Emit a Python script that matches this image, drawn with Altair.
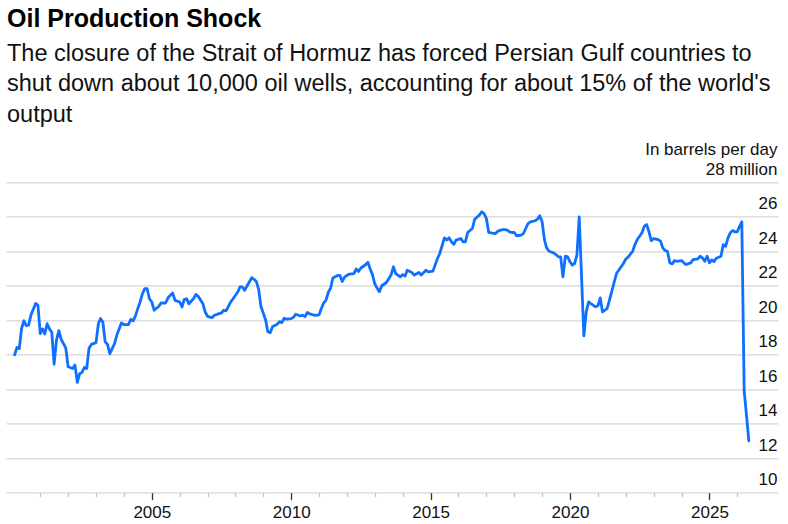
import altair as alt
import pandas as pd

# ---- data (month, million barrels per day) ----
dates = [
    "2000-02", "2000-03", "2000-04", "2000-05", "2000-06", "2000-07", "2000-08", "2000-09", "2000-11", "2000-12",
    "2001-01", "2001-02", "2001-03", "2001-04", "2001-05", "2001-06", "2001-07", "2001-08", "2001-09", "2001-10", "2001-12",
    "2002-01", "2002-03", "2002-04", "2002-05", "2002-06", "2002-07", "2002-08", "2002-09", "2002-10", "2002-11",
    "2003-01", "2003-02", "2003-03", "2003-04", "2003-05", "2003-06", "2003-07", "2003-09", "2003-10", "2003-12",
    "2004-01", "2004-03", "2004-04", "2004-05", "2004-06", "2004-07", "2004-08", "2004-09", "2004-10", "2004-11", "2004-12",
    "2005-01", "2005-02", "2005-04", "2005-05", "2005-07", "2005-08", "2005-10", "2005-11",
    "2006-01", "2006-02", "2006-03", "2006-04", "2006-05", "2006-07", "2006-08", "2006-09", "2006-11", "2006-12",
    "2007-01", "2007-03", "2007-04", "2007-06", "2007-07", "2007-08", "2007-09", "2007-11", "2007-12",
    "2008-02", "2008-03", "2008-04", "2008-05", "2008-07", "2008-08", "2008-09", "2008-10", "2008-11", "2008-12",
    "2009-02", "2009-03", "2009-04", "2009-05", "2009-07", "2009-08", "2009-09", "2009-10", "2009-11",
    "2010-01", "2010-02", "2010-03", "2010-05", "2010-06", "2010-07", "2010-08", "2010-09", "2010-11",
    "2011-01", "2011-02", "2011-03", "2011-04", "2011-05", "2011-06", "2011-07", "2011-09", "2011-10", "2011-11", "2011-12",
    "2012-01", "2012-02", "2012-04", "2012-05", "2012-06", "2012-07", "2012-09", "2012-10", "2012-11", "2012-12",
    "2013-01", "2013-02", "2013-03", "2013-04", "2013-06", "2013-08", "2013-09", "2013-10", "2013-12",
    "2014-01", "2014-02", "2014-03", "2014-05", "2014-06", "2014-08", "2014-09", "2014-11", "2014-12",
    "2015-02", "2015-04", "2015-05", "2015-07", "2015-08", "2015-09", "2015-10", "2015-11", "2015-12",
    "2016-02", "2016-03", "2016-04", "2016-05", "2016-07", "2016-08", "2016-10", "2016-11", "2016-12",
    "2017-01", "2017-02", "2017-03", "2017-05", "2017-06", "2017-08", "2017-09", "2017-10", "2017-11", "2017-12",
    "2018-01", "2018-02", "2018-04", "2018-05", "2018-07", "2018-08", "2018-10", "2018-11", "2018-12",
    "2019-01", "2019-02", "2019-03", "2019-04", "2019-06", "2019-07", "2019-08", "2019-09", "2019-10", "2019-11", "2019-12",
    "2020-01", "2020-02", "2020-03", "2020-04", "2020-05", "2020-07", "2020-08", "2020-09", "2020-10", "2020-12",
    "2021-01", "2021-02", "2021-03", "2021-04", "2021-05", "2021-06", "2021-08", "2021-09", "2021-10", "2021-12",
    "2022-01", "2022-02", "2022-03", "2022-04", "2022-05", "2022-06", "2022-08", "2022-09", "2022-10", "2022-11", "2022-12",
    "2023-01", "2023-03", "2023-04", "2023-05", "2023-06", "2023-07", "2023-08", "2023-09", "2023-10", "2023-11",
    "2024-01", "2024-02", "2024-03", "2024-05", "2024-06", "2024-08", "2024-09", "2024-10", "2024-11", "2024-12",
    "2025-01", "2025-02", "2025-03", "2025-04", "2025-06", "2025-07", "2025-08", "2025-09", "2025-10", "2025-11", "2025-12",
    "2026-01", "2026-02", "2026-03", "2026-04", "2026-05", "2026-06",
]

production = [
    18.0, 18.42, 18.36, 19.52, 19.97, 19.68, 19.72, 20.3, 20.97, 20.88,
    19.23, 19.5, 19.2, 19.8, 19.5, 19.3, 17.45, 18.85, 19.4, 18.9, 18.4,
    17.3, 17.2, 17.4, 16.4, 16.9, 16.97, 17.26, 17.2, 18.36, 18.6,
    18.7, 19.8, 20.1, 19.9, 18.75, 18.6, 18.07, 18.65, 19.14, 19.85,
    19.75, 19.75, 20.05, 19.97, 20.25, 20.67, 21.06, 21.54, 21.83, 21.83, 21.25,
    21.06, 20.58, 20.8, 21.0, 21.0, 21.3, 21.58, 21.15,
    21.06, 20.77, 21.2, 21.25, 20.96, 21.25, 21.5, 21.39, 20.96, 20.48,
    20.23, 20.15, 20.29, 20.38, 20.42, 20.58, 20.54, 21.06, 21.25,
    21.64, 21.93, 21.93, 21.74, 22.22, 22.46, 22.38, 22.25, 21.77, 20.8,
    20.0, 19.34, 19.28, 19.63, 19.77, 19.92, 19.86, 20.12, 20.06,
    20.1, 20.17, 20.35, 20.25, 20.29, 20.21, 20.45, 20.37, 20.29,
    20.31, 20.7, 20.99, 21.15, 21.61, 21.86, 22.45, 22.6, 22.6, 22.25, 22.5,
    22.6, 22.68, 22.7, 22.97, 22.83, 23.03, 23.22, 23.36, 22.97, 22.64,
    22.1, 21.85, 21.66, 22.0, 22.19, 22.62, 23.1, 22.71, 22.52,
    22.65, 22.56, 22.9, 22.77, 22.62, 22.77, 22.62, 22.9, 22.81,
    22.85, 23.58, 23.87, 24.78, 24.65, 24.78, 24.55, 24.4, 24.65,
    24.74, 24.55, 24.55, 25.09, 25.32, 25.86, 26.1, 26.29, 26.19,
    25.9, 25.09, 25.07, 25.03, 25.17, 25.26, 25.26, 25.23, 25.13, 25.09,
    25.09, 24.9, 24.94, 25.03, 25.61, 25.71, 25.77, 25.86, 26.06,
    25.71, 24.65, 24.2, 24.0, 23.91, 23.81, 23.68, 23.68, 22.52, 23.72, 23.68,
    23.39, 23.2, 23.29, 23.78, 26.0, 19.09, 20.49, 21.07, 20.97, 20.78,
    20.84, 21.3, 20.49, 20.58, 20.68, 21.16, 22.19, 22.71, 22.9, 23.29,
    23.55, 23.66, 23.83, 24.0, 24.39, 24.68, 25.07, 25.46, 25.55, 25.13, 24.62,
    24.74, 24.68, 24.59, 24.2, 24.04, 24.0, 23.33, 23.27, 23.46, 23.42,
    23.46, 23.33, 23.23, 23.33, 23.52, 23.56, 23.71, 23.62, 23.42, 23.71,
    23.33, 23.5, 23.4, 23.6, 23.71, 24.39, 24.29, 24.78, 25.07, 25.2, 25.13,
    25.13, 25.46, 25.71, 15.9, 14.5, 13.0,
]

title_text = "Oil Production Shock"
subtitle_lines = [
    "The closure of the Strait of Hormuz has forced Persian Gulf countries to",
    "shut down about 10,000 oil wells, accounting for about 15% of the world's",
    "output",
]
unit_note = "In barrels per day"
y_ticks = [10, 12, 14, 16, 18, 20, 22, 24, 26, 28]
x_tick_years = list(range(2001, 2027))

df = pd.DataFrame({"date": [d + "-01" for d in dates], "value": production})

FONT = "Liberation Sans"
BLUE = "#0f6fff"
GRID = "#d6d6d6"
TEXT = "#111111"

major = "utcyear(datum.value) % 5 === 0"

x_enc = alt.X(
    "date:T",
    scale=alt.Scale(
        type="utc",
        domain=[
            alt.DateTime(year=1999, month=10, date=10, utc=True),
            alt.DateTime(year=2027, month=6, date=18, utc=True),
        ],
    ),
    axis=alt.Axis(
        title=None,
        values=[alt.DateTime(year=y, month=1, date=1, utc=True) for y in x_tick_years],
        labelExpr=f"{major} ? utcFormat(datum.value, '%Y') : ''",
        grid=False,
        domain=False,
        ticks=True,
        tickColor={"condition": {"test": major, "value": "#333333"}, "value": "#c4c4c4"},
        tickSize={"condition": {"test": major, "value": 7}, "value": 4},
        tickWidth=1.3,
        labelPadding=5,
        labelFont=FONT,
        labelFontSize=17,
        labelColor=TEXT,
        labelOverlap=False,
        labelFlush=False,
    ),
)

y_enc = alt.Y(
    "value:Q",
    scale=alt.Scale(domain=[10, 28], nice=False, zero=False),
    axis=alt.Axis(
        orient="right",
        values=y_ticks,
        title=unit_note,
        titleAngle=0,
        titleAlign="right",
        titleBaseline="alphabetic",
        titleX=-1,
        titleY=-28,
        titleFont=FONT,
        titleFontSize=17,
        titleFontWeight="normal",
        titleColor=TEXT,
        labelExpr="datum.value == 28 ? '28 million' : datum.label",
        labelAlign="right",
        labelBaseline="alphabetic",
        labelPadding=-1,
        labelOffset=-8,
        labelFont=FONT,
        labelFontSize=17,
        labelColor=TEXT,
        labelOverlap=False,
        ticks=False,
        tickSize=0,
        domain=False,
        grid=True,
        gridColor=GRID,
        gridWidth=1.3,
    ),
)

chart = (
    alt.Chart(df)
    .mark_line(color=BLUE, strokeWidth=2.8, strokeJoin="round", strokeCap="round")
    .encode(x=x_enc, y=y_enc)
    .properties(
        width=772,
        height=310.4,
        background="white",
        autosize=alt.AutoSizeParams(type="none"),
        padding={"left": 6, "top": 182.3, "right": 10, "bottom": 31.3},
        title=alt.TitleParams(
            text=title_text,
            subtitle=subtitle_lines,
            anchor="start",
            frame="group",
            orient="top",
            offset=14,
            dx=1,
            font=FONT,
            fontSize=25,
            fontWeight="bold",
            color="#000000",
            subtitleFont=FONT,
            subtitleFontSize=23.5,
            subtitleColor=TEXT,
            subtitleLineHeight=30.5,
            subtitlePadding=10,
        ),
    )
    .configure_view(strokeWidth=0)
)

chart.save("out.html", embed_options={"renderer": "svg", "actions": False})
